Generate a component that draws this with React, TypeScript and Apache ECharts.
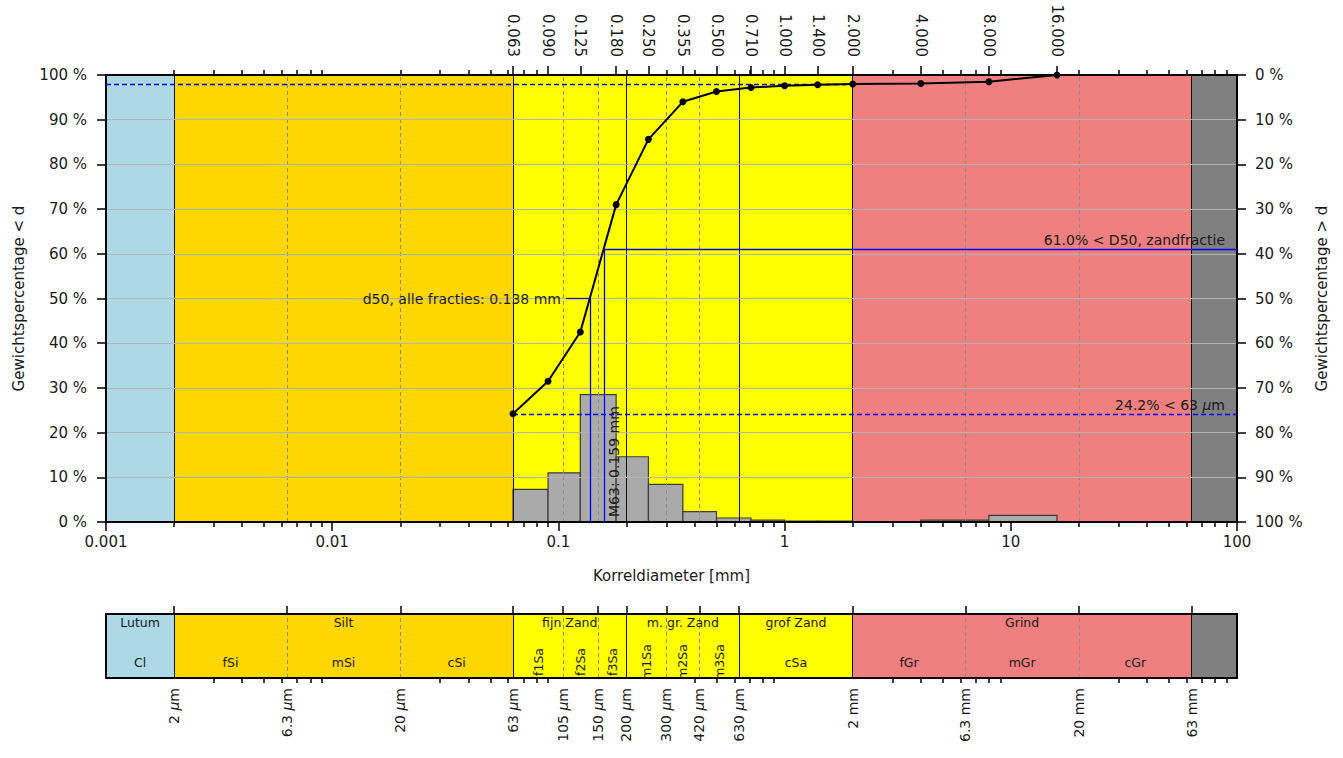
import React, { useEffect, useRef } from "react";
import * as echarts from "echarts";

const FONT = "DejaVu Sans";
const TXT = "#1a1a1a";

// ---- data -------------------------------------------------------------
const sieveSizes = [0.063, 0.09, 0.125, 0.18, 0.25, 0.355, 0.5, 0.71, 1.0, 1.4, 2.0, 4.0, 8.0, 16.0];
const cumulativePassing = [24.2, 31.5, 42.5, 71.0, 85.6, 94.0, 96.3, 97.2, 97.6, 97.8, 98.0, 98.1, 98.5, 100.0];

const binLower = [0.063, 0.09, 0.125, 0.18, 0.25, 0.355, 0.5, 0.71, 1.0, 1.4, 2.0, 4.0, 8.0];
const binUpper = [0.09, 0.125, 0.18, 0.25, 0.355, 0.5, 0.71, 1.0, 1.4, 2.0, 4.0, 8.0, 16.0];
const binPercent = [7.3, 11.0, 28.5, 14.6, 8.4, 2.3, 0.9, 0.4, 0.2, 0.2, 0.1, 0.4, 1.5];

const bandLower = [0.001, 0.002, 0.063, 2, 63];
const bandUpper = [0.002, 0.063, 2, 63, 100];
const bandColors = ["#add8e6", "#ffd700", "#ffff00", "#f08080", "#808080"];

const solidBounds = [0.002, 0.063, 0.2, 0.63, 2, 63];
const dashedBounds = [0.0063, 0.02, 0.105, 0.15, 0.3, 0.42, 6.3, 20];

const decadeTicks = [0.001, 0.01, 0.1, 1, 10, 100];
const decadeLabels = ["0.001", "0.01", "0.1", "1", "10", "100"];

const stripTickValues = [0.002, 0.0063, 0.02, 0.063, 0.105, 0.15, 0.2, 0.3, 0.42, 0.63, 2, 6.3, 20, 63];
const stripTickLabels = ["2 μm", "6.3 μm", "20 μm", "63 μm", "105 μm", "150 μm", "200 μm", "300 μm", "420 μm", "630 μm", "2 mm", "6.3 mm", "20 mm", "63 mm"];

const mainClassNames = ["Lutum", "Silt", "fijn Zand", "m. gr. Zand", "grof Zand", "Grind"];
const mainClassLower = [0.001, 0.002, 0.063, 0.2, 0.63, 2];
const mainClassUpper = [0.002, 0.063, 0.2, 0.63, 2, 63];

const subClassNames = ["Cl", "fSi", "mSi", "cSi", "f1Sa", "f2Sa", "f3Sa", "m1Sa", "m2Sa", "m3Sa", "cSa", "fGr", "mGr", "cGr"];
const subClassLower = [0.001, 0.002, 0.0063, 0.02, 0.063, 0.105, 0.15, 0.2, 0.3, 0.42, 0.63, 2, 6.3, 20];
const subClassUpper = [0.002, 0.0063, 0.02, 0.063, 0.105, 0.15, 0.2, 0.3, 0.42, 0.63, 2, 6.3, 20, 63];
const subClassRotated = [false, false, false, false, true, true, true, true, true, true, false, false, false, false];

const fines = 24.2; // % < 63 um
const below2mm = 98.0; // % < 2 mm
const d50All = 0.138;
const m63 = 0.159;
const sandD50Pct = 61.0;
const d50LineStart = 0.108;

// ---- helpers -----------------------------------------------------------
const decades = [0.001, 0.01, 0.1, 1, 10];
function logMinor(exclude: number[]) {
  const out: number[] = [];
  for (const d of decades) {
    for (let m = 2; m <= 9; m++) {
      const v = +(d * m).toPrecision(6);
      if (!exclude.some((e) => Math.abs(e - v) / v < 1e-6)) out.push(v);
    }
  }
  return out;
}
function lookup(vals: number[], labels: string[], v: number) {
  const i = vals.findIndex((x) => Math.abs(x - v) / x < 1e-6);
  return i >= 0 ? labels[i] : "";
}

const blackLine = { color: "#000", width: 2 };
const tickStyle = { color: "#000", width: 1.5 };

const logBase: any = {
  type: "log",
  logBase: 10,
  min: 0.001,
  max: 100,
  splitLine: { show: false },
  minorTick: { show: false },
  minorSplitLine: { show: false },
};

function bandRender(params: any, api: any) {
  const i = params.dataIndex;
  const p0 = api.coord([api.value(0), api.value(3)]);
  const p1 = api.coord([api.value(1), api.value(2)]);
  return {
    type: "rect",
    shape: { x: p0[0], y: p0[1], width: p1[0] - p0[0], height: p1[1] - p0[1] },
    style: { fill: bandColors[i] },
  };
}

function vlineSeries(xi: number, yi: number, vals: number[], lineStyle: any) {
  return {
    type: "line",
    xAxisIndex: xi,
    yAxisIndex: yi,
    data: [],
    silent: true,
    markLine: {
      z: -6,
      silent: true,
      precision: 8,
      symbol: "none",
      label: { show: false },
      lineStyle,
      emphasis: { disabled: true },
      data: vals.map((v) => ({ xAxis: v })),
    },
  };
}

const solidStyle = { color: "#111", width: 1, type: "solid", opacity: 1 };
const dashedStyle = { color: "#8c8c8c", width: 1, type: [4, 3], opacity: 1 };

const muRich = { mu: { fontStyle: "italic", fontFamily: FONT, fontSize: 14, color: TXT } };
function muText(s: string) {
  return s.replace("μ", "{mu|μ}");
}

const blue = "#0000ff";

function annot(from: number[], to: number[], dashed: boolean, label?: any) {
  return {
    type: "line",
    xAxisIndex: 0,
    yAxisIndex: 0,
    data: [],
    silent: true,
    markLine: {
      z: 8,
      silent: true,
      precision: 8,
      symbol: "none",
      lineStyle: { color: blue, width: 1.3, type: dashed ? [5, 3] : "solid", opacity: 1 },
      label: label ? { show: true, color: TXT, fontSize: 14, fontFamily: FONT, ...label } : { show: false },
      emphasis: { disabled: true },
      data: [[{ coord: from }, { coord: to }]],
    },
  };
}

const option: any = {
  animation: false,
  textStyle: { fontFamily: FONT },
  grid: [
    { left: 106, right: 106, top: 75, height: 447, show: true, borderColor: "#000", borderWidth: 2, backgroundColor: "transparent" },
    { left: 106, right: 106, top: 614, height: 64, show: true, borderColor: "#000", borderWidth: 2, backgroundColor: "transparent" },
  ],
  xAxis: [
    {
      ...logBase,
      gridIndex: 0,
      position: "bottom",
      axisLine: { show: true, onZero: false, lineStyle: blackLine },
      axisTick: { show: true, customValues: decadeTicks, length: 9, lineStyle: tickStyle },
      axisLabel: {
        customValues: decadeTicks,
        formatter: (v: number) => lookup(decadeTicks, decadeLabels, v),
        margin: 12,
        fontSize: 15,
        color: TXT,
        fontFamily: FONT,
      },
      name: "Korreldiameter [mm]",
      nameLocation: "middle",
      nameGap: 46,
      nameTextStyle: { fontSize: 15, color: TXT, fontFamily: FONT },
    },
    {
      ...logBase,
      gridIndex: 0,
      position: "bottom",
      axisLine: { show: false, onZero: false },
      axisTick: { show: true, customValues: logMinor([]), length: 5, lineStyle: tickStyle },
      axisLabel: { show: false },
    },
    {
      ...logBase,
      gridIndex: 0,
      position: "top",
      axisLine: { show: true, onZero: false, lineStyle: blackLine },
      axisTick: { show: true, customValues: sieveSizes, length: 9, lineStyle: tickStyle },
      axisLabel: {
        customValues: sieveSizes,
        rotate: 90,
        formatter: (v: number) => v.toFixed(3),
        margin: 18,
        fontSize: 15,
        color: TXT,
        fontFamily: FONT,
      },
    },
    {
      ...logBase,
      gridIndex: 0,
      position: "top",
      axisLine: { show: false, onZero: false },
      axisTick: { show: true, customValues: logMinor(sieveSizes), length: 5, lineStyle: tickStyle },
      axisLabel: { show: false },
    },
    {
      ...logBase,
      gridIndex: 1,
      position: "top",
      axisLine: { show: true, onZero: false, lineStyle: blackLine },
      axisTick: { show: true, customValues: stripTickValues, length: 8, lineStyle: tickStyle },
      axisLabel: { show: false },
    },
    {
      ...logBase,
      gridIndex: 1,
      position: "bottom",
      axisLine: { show: true, onZero: false, lineStyle: blackLine },
      axisTick: { show: true, customValues: logMinor(stripTickValues), length: 5, lineStyle: tickStyle },
      axisLabel: {
        customValues: stripTickValues,
        rotate: 90,
        formatter: (v: number) => muText(lookup(stripTickValues, stripTickLabels, v)),
        margin: 10,
        fontSize: 14,
        color: TXT,
        fontFamily: FONT,
        rich: muRich,
      },
    },
  ],
  yAxis: [
    {
      gridIndex: 0,
      type: "value",
      min: 0,
      max: 100,
      interval: 10,
      position: "left",
      axisLine: { show: true, onZero: false, lineStyle: blackLine },
      axisTick: { show: true, length: 9, lineStyle: tickStyle },
      axisLabel: { formatter: "{value} %", margin: 19, fontSize: 15, color: TXT, fontFamily: FONT },
      splitLine: { show: true, lineStyle: { color: "#b4b4b4", width: 1 } },
      name: "Gewichtspercentage < d",
      nameLocation: "middle",
      nameGap: 80,
      nameRotate: 90,
      nameTextStyle: { fontSize: 15, color: TXT, fontFamily: FONT },
    },
    {
      gridIndex: 0,
      type: "value",
      min: 0,
      max: 100,
      interval: 10,
      inverse: true,
      position: "right",
      axisLine: { show: true, onZero: false, lineStyle: blackLine },
      axisTick: { show: true, length: 9, lineStyle: tickStyle },
      axisLabel: { formatter: "{value} %", margin: 18, fontSize: 15, color: TXT, fontFamily: FONT },
      splitLine: { show: false },
      name: "Gewichtspercentage > d",
      nameLocation: "middle",
      nameGap: 77,
      nameRotate: 90,
      nameTextStyle: { fontSize: 15, color: TXT, fontFamily: FONT },
    },
    { gridIndex: 1, type: "value", min: 0, max: 1, show: false },
  ],
  series: [
    {
      type: "custom",
      name: "bands",
      xAxisIndex: 0,
      yAxisIndex: 0,
      z: -10,
      silent: true,
      renderItem: bandRender,
      encode: { x: [0, 1], y: [2, 3] },
      data: bandLower.map((lo, i) => [lo, bandUpper[i], 0, 100]),
    },
    {
      type: "custom",
      name: "stripBands",
      xAxisIndex: 4,
      yAxisIndex: 2,
      z: -10,
      silent: true,
      renderItem: bandRender,
      encode: { x: [0, 1], y: [2, 3] },
      data: bandLower.map((lo, i) => [lo, bandUpper[i], 0, 1]),
    },
    {
      type: "custom",
      name: "histogram",
      xAxisIndex: 0,
      yAxisIndex: 0,
      z: -8,
      silent: true,
      renderItem: (params: any, api: any) => {
        const p0 = api.coord([api.value(0), api.value(2)]);
        const p1 = api.coord([api.value(1), 0]);
        return {
          type: "rect",
          shape: { x: p0[0], y: p0[1], width: p1[0] - p0[0], height: p1[1] - p0[1] },
          style: { fill: "#aaaaaa", stroke: "#3c3c3c", lineWidth: 1.2 },
        };
      },
      encode: { x: [0, 1], y: 2 },
      data: binLower.map((lo, i) => [lo, binUpper[i], binPercent[i]]),
    },
    vlineSeries(0, 0, solidBounds, solidStyle),
    vlineSeries(0, 0, dashedBounds, dashedStyle),
    vlineSeries(4, 2, solidBounds, solidStyle),
    vlineSeries(4, 2, dashedBounds, dashedStyle),
    {
      type: "custom",
      name: "mainClassLabels",
      xAxisIndex: 4,
      yAxisIndex: 2,
      z: 3,
      silent: true,
      renderItem: (params: any, api: any) => {
        const i = params.dataIndex;
        const mid = Math.sqrt(mainClassLower[i] * mainClassUpper[i]);
        const p = api.coord([mid, 0.86]);
        return {
          type: "text",
          x: p[0],
          y: p[1],
          style: { text: mainClassNames[i], fill: TXT, fontSize: 12.5, fontFamily: FONT, align: "center", verticalAlign: "middle" },
        };
      },
      encode: { x: [0, 1] },
      data: mainClassLower.map((lo, i) => [lo, mainClassUpper[i]]),
    },
    {
      type: "custom",
      name: "subClassLabels",
      xAxisIndex: 4,
      yAxisIndex: 2,
      z: 3,
      silent: true,
      clip: true,
      renderItem: (params: any, api: any) => {
        const i = params.dataIndex;
        const mid = Math.sqrt(subClassLower[i] * subClassUpper[i]);
        const p = api.coord([mid, 0.25]);
        return {
          type: "text",
          x: p[0],
          y: p[1],
          rotation: subClassRotated[i] ? Math.PI / 2 : 0,
          style: { text: subClassNames[i], fill: TXT, fontSize: 12.5, fontFamily: FONT, align: "center", verticalAlign: "middle" },
        };
      },
      encode: { x: [0, 1] },
      data: subClassLower.map((lo, i) => [lo, subClassUpper[i]]),
    },
    annot([0.001, below2mm], [2, below2mm], true),
    annot([0.063, fines], [100, fines], true, {
      position: "insideEndTop",
      distance: [12, 2],
      formatter: muText(`${fines.toFixed(1)}% < 63 μm`),
      rich: muRich,
    }),
    annot([m63, 0], [m63, sandD50Pct], false, {
      position: "insideStartBottom",
      distance: [5, 3],
      formatter: `M63: ${m63.toFixed(3)} mm`,
    }),
    annot([m63, sandD50Pct], [100, sandD50Pct], false, {
      position: "insideEndTop",
      distance: [12, 2],
      formatter: `${sandD50Pct.toFixed(1)}% < D50, zandfractie`,
    }),
    annot([d50All, 0], [d50All, 50], false),
    annot([d50LineStart, 50], [d50All, 50], false, {
      position: "start",
      distance: 5,
      formatter: `d50, alle fracties: ${d50All.toFixed(3)} mm`,
    }),
    {
      type: "line",
      name: "cumulative",
      xAxisIndex: 0,
      yAxisIndex: 0,
      z: 10,
      data: sieveSizes.map((s, i) => [s, cumulativePassing[i]]),
      lineStyle: { color: "#000", width: 2 },
      itemStyle: { color: "#000" },
      symbol: "circle",
      symbolSize: 7,
      showSymbol: true,
      silent: true,
    },
  ],
};

export default function App() {
  const ref = useRef<HTMLDivElement>(null);
  useEffect(() => {
    document.body.style.margin = "0";
    const chart = echarts.init(ref.current!, null, { renderer: "svg" });
    chart.setOption(option);
    return () => chart.dispose();
  }, []);
  return <div ref={ref} style={{ width: 1343, height: 758 }} />;
}
